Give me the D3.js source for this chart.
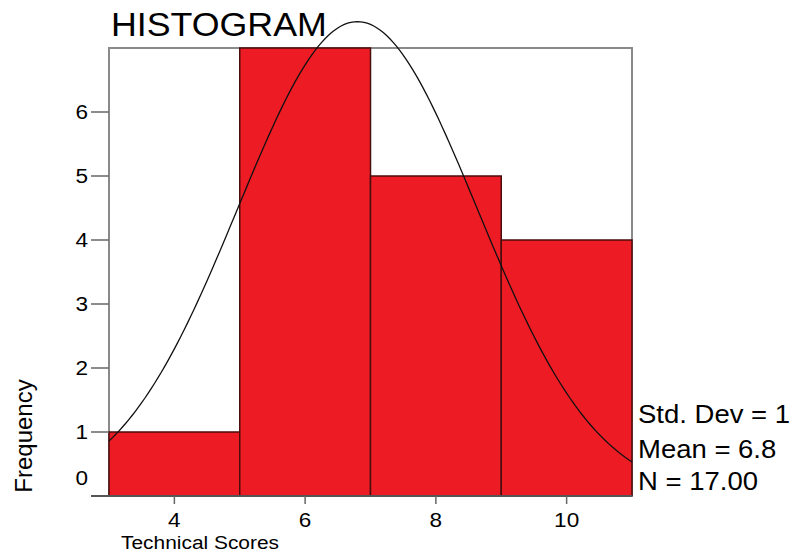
<meta charset="utf-8">
<html>
<script src="https://cdn.jsdelivr.net/npm/d3@7"></script>
<style>
body { margin: 0; background: #fff; font-family: Arial, "Liberation Sans", Helvetica, sans-serif; }
</style>
<body>
<svg id="chart" width="794" height="555"></svg>
<script>
// histogram bins (lower edge, upper edge) and counts
var binStart = [3, 5, 7, 9];
var binEnd = [5, 7, 9, 11];
var counts = [1, 7, 5, 4];
var xTicks = [4, 6, 8, 10];
var yTicks = [0, 1, 2, 3, 4, 5, 6];
var statsText = ["Std. Dev = 1", "Mean = 6.8", "N = 17.00"];
var mean = 6.8, sd = 1.83, n = 17, binWidth = 2;

var stretch = 1.1; // the original text is a bit wider than Arial

var svg = d3.select("#chart");

var x = d3.scaleLinear().domain([3, 11]).range([109, 632]);
var y = d3.scaleLinear().domain([0, 7]).range([496, 48]);

function place(tx, ty) {
	return "translate(" + tx + "," + ty + ") scale(" + stretch + ",1)";
}

// frame
svg.append("path")
	.attr("d", "M" + x(3) + "," + y(0) + "V" + y(7) + "H" + x(11) + "V" + y(0))
	.attr("fill", "none")
	.attr("stroke", "#8a8a8a")
	.attr("stroke-width", 2);

// bars
svg.selectAll("rect.bar")
	.data(counts)
	.enter()
	.append("rect")
	.attr("class", "bar")
	.attr("x", function(d, i) { return x(binStart[i]); })
	.attr("y", function(d) { return y(d); })
	.attr("width", function(d, i) { return x(binEnd[i]) - x(binStart[i]); })
	.attr("height", function(d) { return y(0) - y(d); })
	.attr("fill", "#ed1c24")
	.attr("stroke", "#4a0c0c")
	.attr("stroke-width", 1.5);

// y ticks
svg.selectAll("line.ytick")
	.data(yTicks)
	.enter()
	.append("line")
	.attr("x1", 91).attr("x2", x(3))
	.attr("y1", function(d) { return y(d); })
	.attr("y2", function(d) { return y(d); })
	.attr("stroke", "#666")
	.attr("stroke-width", 1.5);

svg.selectAll("text.ylab")
	.data(yTicks)
	.enter()
	.append("text")
	.attr("transform", function(d) { return place(88, d === 0 ? y(d) - 18 : y(d)); })
	.attr("dy", "0.36em")
	.attr("text-anchor", "end")
	.attr("font-size", 20.5)
	.text(function(d) { return d; });

// baseline
svg.append("line")
	.attr("x1", 91).attr("x2", x(11))
	.attr("y1", y(0)).attr("y2", y(0))
	.attr("stroke", "#555")
	.attr("stroke-width", 2);

// x ticks
svg.selectAll("line.xtick")
	.data(xTicks)
	.enter()
	.append("line")
	.attr("x1", function(d) { return x(d); })
	.attr("x2", function(d) { return x(d); })
	.attr("y1", y(0)).attr("y2", y(0) + 8)
	.attr("stroke", "#666")
	.attr("stroke-width", 1.5);

svg.selectAll("text.xlab")
	.data(xTicks)
	.enter()
	.append("text")
	.attr("transform", function(d) { return place(x(d), 527); })
	.attr("text-anchor", "middle")
	.attr("font-size", 20.5)
	.text(function(d) { return d; });

// normal curve
var curvePts = d3.range(3, 11.001, 0.05).map(function(v) {
	var z = (v - mean) / sd;
	return [v, n * binWidth / (sd * Math.sqrt(2 * Math.PI)) * Math.exp(-0.5 * z * z)];
});
svg.append("path")
	.attr("d", d3.line().x(function(d) { return x(d[0]); }).y(function(d) { return y(d[1]); })(curvePts))
	.attr("fill", "none")
	.attr("stroke", "#111")
	.attr("stroke-width", 1.3);

// titles
svg.append("text")
	.attr("transform", place(111, 36))
	.attr("font-size", 32.5)
	.text("HISTOGRAM");

svg.append("text")
	.attr("transform", place(200, 549))
	.attr("text-anchor", "middle")
	.attr("font-size", 19)
	.text("Technical Scores");

svg.append("text")
	.attr("transform", "translate(32,436) rotate(-90)")
	.attr("text-anchor", "middle")
	.attr("font-size", 24)
	.text("Frequency");

svg.selectAll("text.stat")
	.data(statsText)
	.enter()
	.append("text")
	.attr("transform", function(d, i) { return place(638, [423, 458, 490][i]); })
	.attr("font-size", 25)
	.text(function(d) { return d; });
</script>
</body>
</html>
